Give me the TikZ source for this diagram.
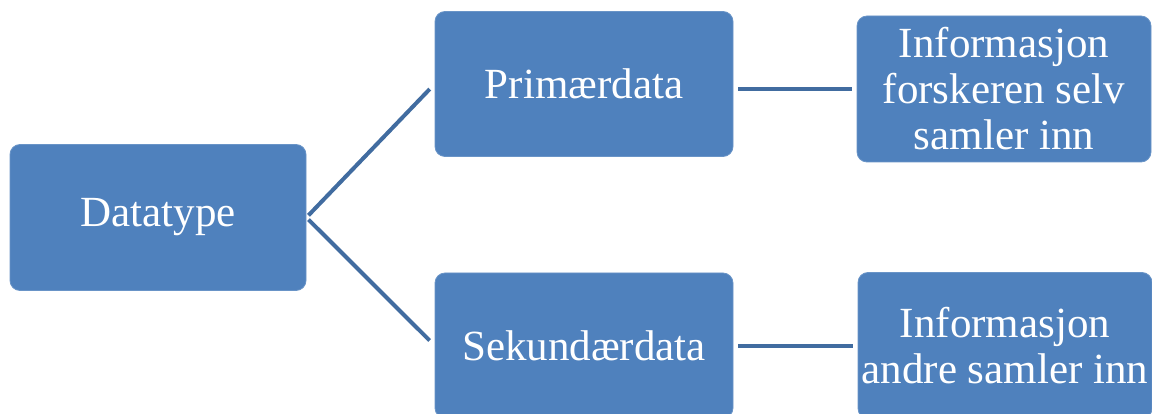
\documentclass[tikz,border=0pt]{standalone}
\usepackage{fontspec}
\setmainfont{Liberation Serif}
\usepackage{tikz}
\usetikzlibrary{calc}
\definecolor{boxblue}{HTML}{4F81BD}
\definecolor{linkblue}{HTML}{416CA0}
\tikzset{
  box/.style={draw=boxblue!85!white, line width=0.8pt, fill=boxblue, rounded corners=10pt,
    text=white, align=center, font=\fontsize{43}{46}\selectfont, inner sep=0pt},
  link/.style={draw=linkblue, line width=4pt},
}

\begin{document}
\begin{tikzpicture}[x=1pt,y=-1pt]
  \clip (0,0) rectangle (1152,414);
  \useasboundingbox (0,0) rectangle (1152,414);

  \node[box, minimum width=296pt, minimum height=146pt] (dtype) at (158,217.5) {Datatype};
  \node[box, minimum width=298pt, minimum height=145pt] (prim) at (584,84) {Primærdata};
  \node[box, minimum width=298pt, minimum height=145pt] (sek) at (584,345.5) {Sekundærdata};
  \node[box, minimum width=294pt, minimum height=146pt] (infoP) at (1004,89)
    {Informasjon\\forskeren selv\\samler inn};
  \node[box, minimum width=294pt, minimum height=146pt] (infoS) at (1005,345.5)
    {Informasjon\\andre samler inn};

  % branches
  \draw[link, shorten <=3pt, shorten >=7pt] (dtype.east) -- (prim.west);
  \draw[link, shorten <=3pt, shorten >=7pt] (dtype.east) -- (sek.west);
  \draw[link, shorten <=5pt, shorten >=5pt] (infoP.west -| prim.east) -- (infoP.west);
  \draw[link, shorten <=5pt, shorten >=5pt] (infoS.west -| sek.east) -- (infoS.west);
\end{tikzpicture}
\end{document}
